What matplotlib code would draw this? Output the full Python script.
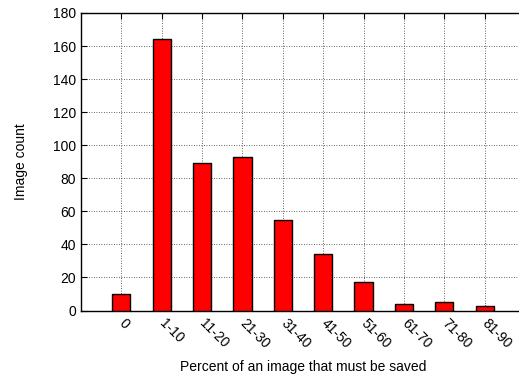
import matplotlib
matplotlib.use("Agg")
import matplotlib.pyplot as plt

categories = ["0", "1-10", "11-20", "21-30", "31-40", "41-50", "51-60", "61-70", "71-80", "81-90"]
counts = [10, 164, 89, 93, 55, 34, 17, 4, 5, 3]
yticks = list(range(0, 181, 20))

plt.rcParams['font.family'] = ['Liberation Sans', 'DejaVu Sans']
fig = plt.figure(figsize=(5.19, 3.75), dpi=100)
ax = fig.add_axes([81/519, (375-310.5)/375, (525-81)/519, 297.5/375])

x = list(range(len(categories)))
ax.bar(x, counts, width=0.45, color='#ff0000', edgecolor='black', linewidth=1.0, zorder=3)

ax.set_xlim(-1, 10)
ax.set_ylim(0, 180)
ax.set_yticks(yticks)
ax.set_xticks(x)
ax.set_xticklabels(categories, rotation=-45, ha='left', va='center', rotation_mode='anchor', fontsize=10)
ax.tick_params(axis='y', labelsize=10, direction='in', length=4, right=False)
ax.tick_params(axis='x', direction='in', length=4, top=True, pad=8)
ax.grid(True, linestyle=(0, (1, 2)), color='#333333', linewidth=0.6, zorder=0)
for s in ax.spines.values():
    s.set_linewidth(1.0)
ax.spines['right'].set_visible(False)
ax.set_ylabel("Image count", fontsize=10, labelpad=18)
ax.set_xlabel("Percent of an image that must be saved", fontsize=10, labelpad=6)

fig.savefig("out.png", dpi=100)
